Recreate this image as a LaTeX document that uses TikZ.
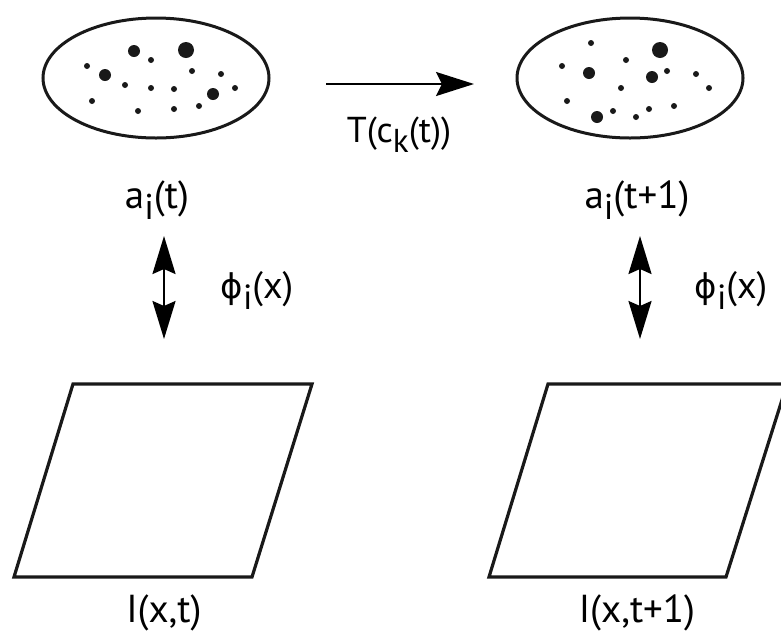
\documentclass[tikz,border=0pt]{standalone}
\usepackage{fontspec}
\setmainfont{PT Sans}
\newfontfamily\dvfont{DejaVu Sans}
\usetikzlibrary{arrows.meta,shapes.geometric}
\newcommand\lowsub[1]{\raisebox{-0.3em}{\scalebox{0.92}{#1}}}
\tikzset{
  blob/.style={draw=black!90, line width=3pt, ellipse, minimum width=226pt, minimum height=120pt, inner sep=0pt},
  plane/.style={draw=black!90, line width=3.2pt, line join=miter},
  lbl/.style={anchor=base, inner sep=0pt, font=\fontsize{39}{39}\selectfont},
  dot/.style={fill=black!90},
  bigarrow/.style={line width=2.4pt, -{Stealth[length=38pt,width=24pt,inset=6pt]}},
  dblarrow/.style={line width=2.4pt, {Stealth[length=38pt,width=23pt,inset=5pt]}-{Stealth[length=38pt,width=23pt,inset=5pt]}}
}
\begin{document}
\begin{tikzpicture}[x=1pt,y=-1pt]
\useasboundingbox (0,0) rectangle (781,633);
% ellipses
\node[blob] (e1) at (156,78) {};
\node[blob] (e2) at (630,78) {};
% dots left
\foreach \x/\y/\r in {134/51/6, 186/50/8, 151/60/3, 87/66/3, 105/75/6, 192/71/3, 221/74/3,
  125/85/3, 151/88/3, 174/89/3, 213/94/6, 235/88/3, 92/101/3, 138/111/3, 174/109/3, 199/106/3}
  \fill[dot] (\x,\y) circle[radius=\r];
% dots right
\foreach \x/\y/\r in {591/43/3, 660/50/8, 626/60/3, 562/66/3, 589/73/6, 652/77/6, 667/71/3,
  696/74/3, 709/88/3, 621/88/3, 567/101/3, 597/117/6, 613/111/3, 636/117/3, 649/109/3, 674/106/3}
  \fill[dot] (\x,\y) circle[radius=\r];
% transition arrow
\coordinate (h1) at (326,84);
\coordinate (h2) at (474,84);
\draw[bigarrow] (h1) -- (h2);
\node[lbl, font=\fontsize{36}{36}\selectfont] (T) at (399,142) {T(c\lowsub{k}(t))};
% coefficient labels
\node[lbl] (a1) at (157,208) {a\lowsub{i}(t)};
\node[lbl] (a2) at (637,208) {a\lowsub{i}(t+1)};
% double arrows
\coordinate (d1t) at (164,236);
\coordinate (d1b) at (164,339);
\coordinate (d2t) at (640,236);
\coordinate (d2b) at (640,339);
\draw[dblarrow] (d1t) -- (d1b);
\draw[dblarrow] (d2t) -- (d2b);
\node[lbl, font=\fontsize{38}{38}\selectfont] (p1) at (257,298) {{\dvfont\fontsize{34}{34}\selectfont ϕ}\lowsub{i}(x)};
\node[lbl, font=\fontsize{38}{38}\selectfont] (p2) at (731,298) {{\dvfont\fontsize{34}{34}\selectfont ϕ}\lowsub{i}(x)};
% image planes
\coordinate (A1) at (73,384);
\coordinate (B1) at (312,384);
\coordinate (C1) at (252,577);
\coordinate (D1) at (14,577);
\draw[plane] (A1) -- (B1) -- (C1) -- (D1) -- cycle;
\coordinate (A2) at (548,384);
\coordinate (B2) at (787,384);
\coordinate (C2) at (726,577);
\coordinate (D2) at (489,577);
\draw[plane] (A2) -- (B2) -- (C2) -- (D2) -- cycle;
\node[lbl] (I1) at (164,622) {I(x,t)};
\node[lbl] (I2) at (637,622) {I(x,t+1)};
\end{tikzpicture}
\end{document}
